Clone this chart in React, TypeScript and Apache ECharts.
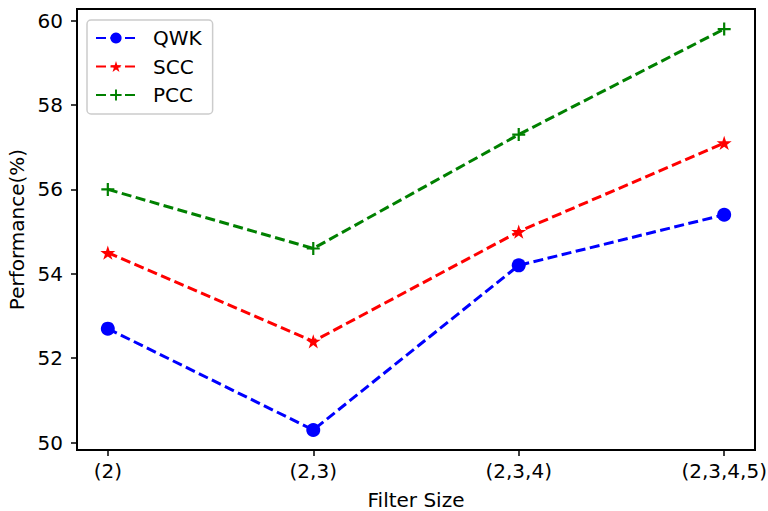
import React, { useEffect, useRef } from "react";
import * as echarts from "echarts";

const categories = ["(2)", "(2,3)", "(2,3,4)", "(2,3,4,5)"];
const qwk = [52.7, 50.3, 54.2, 55.4];
const scc = [54.5, 52.4, 55.0, 57.1];
const pcc = [56.0, 54.6, 57.3, 59.8];
const yTicks = [50, 52, 54, 56, 58, 60];

const STAR =
  "path://M0 -1 L0.2245 -0.309 L0.951 -0.309 L0.363 0.118 L0.588 0.809 L0 0.382 L-0.588 0.809 L-0.363 0.118 L-0.951 -0.309 L-0.2245 -0.309 Z";
const PLUS =
  "path://M-0.17 -1 L0.17 -1 L0.17 -0.17 L1 -0.17 L1 0.17 L0.17 0.17 L0.17 1 L-0.17 1 L-0.17 0.17 L-1 0.17 L-1 -0.17 L-0.17 -0.17 Z";

const FONT = "DejaVu Sans";
const FS = 20;

export default function App() {
  const ref = useRef<HTMLDivElement>(null);
  useEffect(() => {
    if (!ref.current) return;
    document.body.style.margin = "0";
    const chart = echarts.init(ref.current, null, { renderer: "svg" });
    const mk = (name: string, vals: number[], color: string, symbol: string, size: number, keep: boolean) => ({
      name,
      type: "line",
      data: vals.map((v, i) => [i, v]),
      symbol,
      symbolSize: size,
      symbolKeepAspect: keep,
      showSymbol: true,
      lineStyle: { color, width: 3, type: [10, 4.5] },
      itemStyle: { color, borderWidth: 0 },
      emphasis: { disabled: true },
    });
    chart.setOption({
      animation: false,
      backgroundColor: "#ffffff",
      textStyle: { fontFamily: FONT },
      grid: {
        left: 77,
        top: 9,
        right: 13,
        bottom: 61,
        containLabel: false,
        outerBoundsMode: "none",
        show: true,
        borderColor: "#000",
        borderWidth: 2,
        backgroundColor: "transparent",
      },
      legend: {
        left: 87,
        top: 20,
        orient: "vertical",
        itemWidth: 40,
        itemHeight: 14,
        itemGap: 6.5,
        padding: [7, 11, 8, 8],
        backgroundColor: "rgba(255,255,255,0.8)",
        borderColor: "#cccccc",
        borderWidth: 1.5,
        borderRadius: 4,
        textStyle: {
          fontFamily: FONT,
          fontSize: FS,
          color: "#000",
          lineHeight: 22,
          padding: [0, 0, 0, 12],
        },
        data: ["QWK", "SCC", "PCC"],
      },
      xAxis: {
        type: "value",
        min: -0.15,
        max: 3.15,
        name: "Filter Size",
        nameLocation: "middle",
        nameGap: 41,
        nameTextStyle: { fontFamily: FONT, fontSize: FS, color: "#000", lineHeight: 18 },
        axisLine: { show: true, onZero: false, lineStyle: { color: "#000", width: 2 } },
        axisTick: { show: true, customValues: [0, 1, 2, 3], length: 6, lineStyle: { color: "#000", width: 1.5 } },
        axisLabel: {
          customValues: [0, 1, 2, 3],
          formatter: (v: number) => categories[Math.round(v)] ?? "",
          fontFamily: FONT,
          fontSize: FS,
          color: "#000",
          margin: 11,
        },
        splitLine: { show: false },
      },
      yAxis: {
        type: "value",
        min: 49.825,
        max: 60.275,
        name: "Performance(%)",
        nameLocation: "middle",
        nameGap: 50,
        nameTextStyle: { fontFamily: FONT, fontSize: FS, color: "#000" },
        axisLine: { show: true, onZero: false, lineStyle: { color: "#000", width: 2 } },
        axisTick: { show: true, customValues: yTicks, length: 6, lineStyle: { color: "#000", width: 1.5 } },
        axisLabel: {
          customValues: yTicks,
          fontFamily: FONT,
          fontSize: FS,
          color: "#000",
          margin: 14,
        },
        splitLine: { show: false },
      },
      series: [
        mk("QWK", qwk, "#0000ff", "circle", 14, false),
        mk("SCC", scc, "#ff0000", STAR, 15, true),
        mk("PCC", pcc, "#008000", PLUS, 13, true),
      ],
    });
    return () => chart.dispose();
  }, []);
  return <div ref={ref} style={{ width: 768, height: 511 }} />;
}
